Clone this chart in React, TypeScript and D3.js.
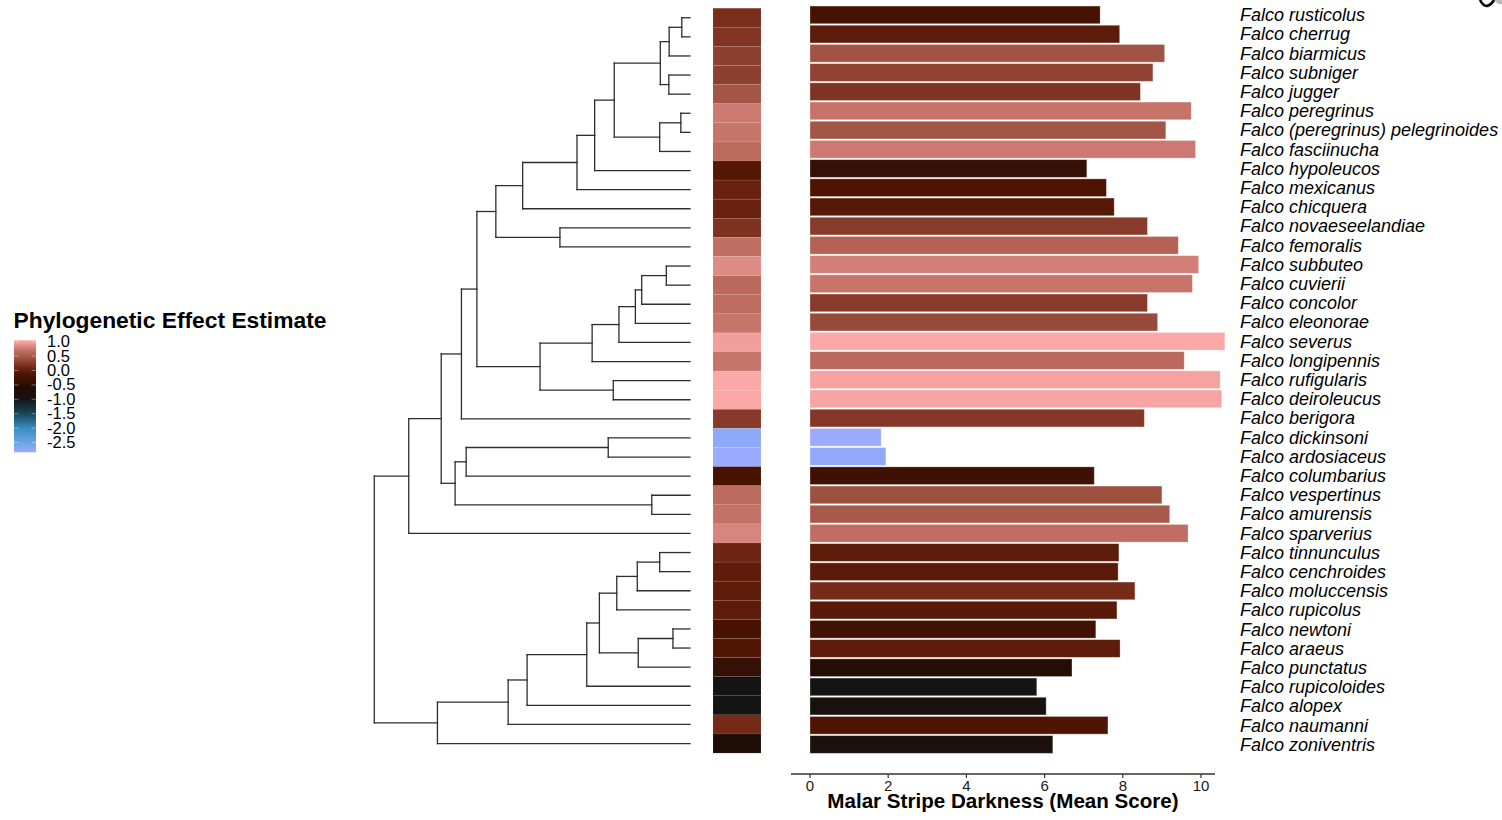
import React from 'react';
import * as d3 from 'd3';

// ---------- DATA ----------
const epithets = [
  'rusticolus', 'cherrug', 'biarmicus', 'subniger', 'jugger', 'peregrinus',
  '(peregrinus) pelegrinoides', 'fasciinucha', 'hypoleucos', 'mexicanus',
  'chicquera', 'novaeseelandiae', 'femoralis', 'subbuteo', 'cuvierii',
  'concolor', 'eleonorae', 'severus', 'longipennis', 'rufigularis',
  'deiroleucus', 'berigora', 'dickinsoni', 'ardosiaceus', 'columbarius',
  'vespertinus', 'amurensis', 'sparverius', 'tinnunculus', 'cenchroides',
  'moluccensis', 'rupicolus', 'newtoni', 'araeus', 'punctatus',
  'rupicoloides', 'alopex', 'naumanni', 'zoniventris',
];
const species = epithets.map((e) => 'Falco ' + e);

const malarScore = [
  7.42, 7.92, 9.07, 8.77, 8.45, 9.75, 9.10, 9.86, 7.08, 7.58,
  7.78, 8.63, 9.42, 9.94, 9.78, 8.63, 8.89, 10.61, 9.57, 10.49,
  10.53, 8.55, 1.82, 1.94, 7.27, 9.0, 9.2, 9.67, 7.9, 7.88,
  8.31, 7.85, 7.31, 7.93, 6.7, 5.8, 6.04, 7.62, 6.21,
];

const phyloEffect = [
  0.15, 0.2, 0.3, 0.3, 0.45, 0.75, 0.72, 0.65, -0.1, 0.05,
  0.05, 0.18, 0.68, 0.85, 0.64, 0.66, 0.72, 0.97, 0.72, 1.05,
  1.05, 0.25, -2.74, -2.84, -0.2, 0.65, 0.7, 0.82, 0.08, 0.0,
  -0.02, -0.02, -0.2, -0.12, -0.4, -1.0, -1.0, 0.12, -0.65,
];

const axisTicks = [0, 2, 4, 6, 8, 10];
const legendTicks = [1.0, 0.5, 0.0, -0.5, -1.0, -1.5, -2.0, -2.5];
const legendTickLabels = ['1.0', '0.5', '0.0', '-0.5', '-1.0', '-1.5', '-2.0', '-2.5'];

// Phylogeny: node depth (root = 0, tips = 100) and children; tips are epithet indices
type TNode = { depth: number; children?: TNode[]; tip?: number };
const N = (depth: number, ...children: TNode[]): TNode => ({ depth, children });
const T = (tip: number): TNode => ({ depth: 100, tip });

const tree: TNode = N(0,
  N(10.9,
    N(21.2,
      N(27.6,
        N(32.5,
          N(38.5,
            N(47.0,
              N(64.2,
                N(69.8,
                  N(76.0,
                    N(90.6,
                      N(93.4, N(97.4, T(0), T(1)), T(2)),
                      N(93.3, T(3), T(4))),
                    N(90.4, N(97.1, T(5), T(6)), T(7))),
                  T(8)),
                T(9)),
              T(10)),
            N(58.8, T(11), T(12))),
          N(52.5,
            N(69.0,
              N(77.5,
                N(82.7,
                  N(84.7, N(92.5, T(13), T(14)), T(15)),
                  T(16)),
                T(17)),
              T(18)),
            N(75.7, T(19), T(20)))),
        T(21)),
      N(25.6,
        N(29.1, N(74.1, T(22), T(23)), T(24)),
        N(87.9, T(25), T(26)))),
    T(27)),
  N(20.0,
    N(42.4,
      N(48.4,
        N(67.3,
          N(71.3,
            N(76.8, N(83.3, N(90.4, T(28), T(29)), T(30)), T(31)),
            N(83.6, N(94.6, T(32), T(33)), T(34))),
          T(35)),
        T(36)),
      T(37)),
    T(38)));

// ---------- SCALES / STYLES ----------
const effectStops = [1.05, 0.95, 0.8, 0.65, 0.45, 0.3, 0.15, 0.0, -0.2, -0.4, -0.6, -1.0, -1.5, -2.0, -2.5, -2.84];
const effectColors = ['#fca8a8', '#ee9c9a', '#d4827a', '#bc6a5e', '#a35546', '#8e4030', '#7a2e1c', '#601c0a', '#481200', '#341006', '#220c04', '#141414', '#1a4656', '#3a8cc0', '#68a6e6', '#9caaff'];
const colorScale = d3.scaleLinear<string>().domain(effectStops).range(effectColors).interpolate(d3.interpolateRgb).clamp(true);
const barToEffect = d3.scaleLinear().domain([1.8, 5.8, 7.42, 10.61]).range([-2.84, -1.0, -0.22, 1.05]).clamp(true);

const FONT = '"Liberation Sans", Arial, Helvetica, sans-serif';

const xBar = d3.scaleLinear().domain([0, 10]).range([810, 1201]);
const yBar = d3.scaleBand<string>().domain(species).range([5.3, 754.1]).paddingInner(0.08).paddingOuter(0.04);
const yHeat = d3.scaleBand<string>().domain(species).range([8.2, 753.1]);
const xTree = d3.scaleLinear().domain([0, 100]).range([374.3, 690]);
const yLegend = d3.scaleLinear().domain([1.0, -2.5]).range([341.7, 442.5]);

type Seg = { x1: number; y1: number; x2: number; y2: number };

function layoutTree(node: TNode, segs: Seg[]): { x: number; y: number } {
  if (node.tip !== undefined) {
    const s = species[node.tip];
    return { x: xTree(100), y: (yHeat(s) as number) + yHeat.bandwidth() / 2 };
  }
  const x = xTree(node.depth);
  const kids = (node.children || []).map((c) => layoutTree(c, segs));
  const y0 = kids[0].y;
  const y1 = kids[kids.length - 1].y;
  segs.push({ x1: x, y1: y0, x2: x, y2: y1 });
  kids.forEach((k) => segs.push({ x1: x, y1: k.y, x2: k.x, y2: k.y }));
  return { x, y: (y0 + y1) / 2 };
}

export default function App() {
  const segs: Seg[] = [];
  layoutTree(tree, segs);

  const legTop = yLegend(1.05);
  const legBot = yLegend(-2.84);
  const gradStops = d3.range(0, 41).map((i) => {
    const v = 1.05 - (i / 40) * (1.05 + 2.84);
    return { offset: i / 40, color: colorScale(v) };
  });

  return (
    <svg width={1502} height={820} style={{ position: 'absolute', left: 0, top: 0, background: '#fff' }} fontFamily={FONT}>
      <defs>
        <linearGradient id="legGrad" x1="0" y1="0" x2="0" y2="1">
          {gradStops.map((g, i) => (
            <stop key={i} offset={g.offset} stopColor={g.color} />
          ))}
        </linearGradient>
      </defs>

      {/* tree */}
      <g stroke="#2e2e2e" strokeWidth={1.3} strokeLinecap="square">
        {segs.map((s, i) => (
          <line key={i} x1={s.x1} y1={s.y1} x2={s.x2} y2={s.y2} />
        ))}
      </g>

      {/* heat column */}
      <g>
        {species.map((s, i) => (
          <rect key={s} x={713} y={yHeat(s)} width={48} height={yHeat.bandwidth()}
            fill={colorScale(phyloEffect[i])} stroke="#ffffff" strokeOpacity={0.12} strokeWidth={0.6} />
        ))}
      </g>

      {/* bars */}
      <g>
        {species.map((s, i) => (
          <rect key={s} x={xBar(0)} y={yBar(s)} width={xBar(malarScore[i]) - xBar(0)} height={yBar.bandwidth()}
            fill={colorScale(barToEffect(malarScore[i]))} stroke="#ffffff" strokeOpacity={0.35} strokeWidth={0.8} />
        ))}
      </g>

      {/* species labels */}
      <g fontSize={18} fontStyle="italic" fill="#000">
        {species.map((s) => (
          <text key={s} x={1240} y={(yBar(s) as number) + yBar.bandwidth() / 2} dy="0.35em">{s}</text>
        ))}
      </g>

      {/* x axis */}
      <g>
        <line x1={791} x2={1215} y1={774} y2={774} stroke="#333" strokeWidth={1.3} />
        {axisTicks.map((t) => (
          <g key={t}>
            <line x1={xBar(t)} x2={xBar(t)} y1={774} y2={778} stroke="#333" strokeWidth={1.2} />
            <text x={xBar(t)} y={790.5} textAnchor="middle" fontSize={15} fill="#1a1a1a">{t}</text>
          </g>
        ))}
        <text x={1003} y={807.5} textAnchor="middle" fontSize={20.6} fontWeight="bold" fill="#000">
          Malar Stripe Darkness (Mean Score)
        </text>
      </g>

      {/* legend */}
      <g>
        <text x={13.5} y={328.3} fontSize={22.8} fontWeight="bold" fill="#000">Phylogenetic Effect Estimate</text>
        <rect x={14} y={legTop} width={22} height={legBot - legTop} fill="url(#legGrad)" />
        {legendTicks.map((t, i) => (
          <g key={t}>
            <line x1={14} x2={18.5} y1={yLegend(t)} y2={yLegend(t)} stroke="#fff" strokeOpacity={0.45} strokeWidth={0.8} />
            <line x1={31.5} x2={36} y1={yLegend(t)} y2={yLegend(t)} stroke="#fff" strokeOpacity={0.45} strokeWidth={0.8} />
            <text x={47} y={yLegend(t) + 5.5} fontSize={16.5} fill="#000">{legendTickLabels[i]}</text>
          </g>
        ))}
      </g>

      {/* cropped corner mark */}
      <g>
        <path d="M1494,0 L1502,0 L1502,4 Q1497,5 1494,0 Z" fill="#bbb" />
        <path d="M1480,0 Q1483,6 1487,6 Q1491,5 1494,0" fill="none" stroke="#000" strokeWidth={2.6} />
      </g>
    </svg>
  );
}
